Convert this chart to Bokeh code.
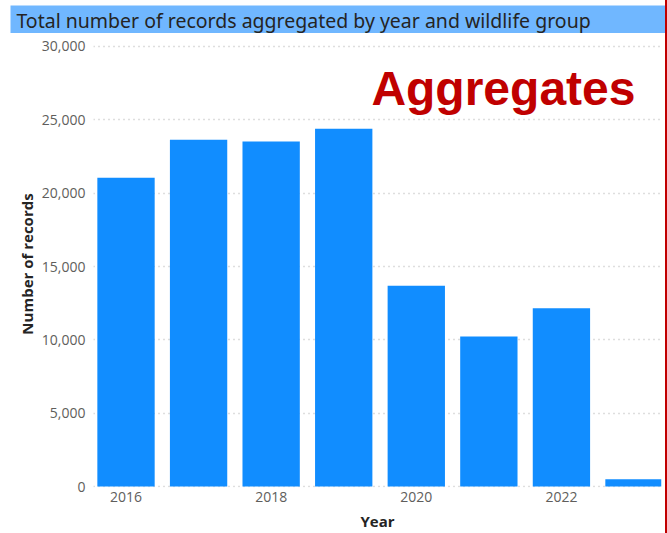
from bokeh.plotting import figure
from bokeh.models import Range1d, FixedTicker, NumeralTickFormatter, Label, ColumnDataSource
from bokeh.embed import file_html
from bokeh.resources import INLINE

years = [2016, 2017, 2018, 2019, 2020, 2021, 2022, 2023]
records = [21050, 23650, 23520, 24400, 13680, 10230, 12150, 500]
x_ticks = [2016, 2018, 2020, 2022]
y_ticks = [0, 5000, 10000, 15000, 20000, 25000, 30000]

title_text = "Total number of records aggregated by year and wildlife group"
badge_text = "Aggregates"

edge = {"border-right": "2px solid #C00000", "box-sizing": "border-box"}

# title bar (separate root so its frame is not aligned to the chart's)
t = figure(width=667, height=33, output_backend="svg", toolbar_location=None,
           x_range=Range1d(0, 1), y_range=Range1d(0, 1),
           x_axis_location=None, y_axis_location=None,
           min_border_left=10, min_border_right=2, min_border_top=5, min_border_bottom=0,
           styles=edge)
t.grid.visible = False
t.outline_line_color = None
t.background_fill_color = "#70B7FF"
t.border_fill_color = "white"
t.add_layout(Label(x=0.009, y=0.45, text=title_text, text_baseline="middle",
                   text_font="Noto Sans", text_font_size="19.5px", text_color="#252423"))

src = ColumnDataSource(dict(year=years, records=records))

p = figure(width=667, height=500, output_backend="svg", toolbar_location=None,
           x_range=Range1d(2015.552, 2023.379), y_range=Range1d(-68, 30409),
           min_border_left=93, min_border_right=6, min_border_top=7, min_border_bottom=46,
           styles=edge)
p.outline_line_color = None
p.vbar(x="year", top="records", width=0.79, source=src, fill_color="#118DFF", line_color=None)

p.xgrid.visible = False
p.ygrid.grid_line_color = "#BDBDBD"
p.ygrid.grid_line_dash = "1 4"
p.ygrid.grid_line_width = 1.3

p.xaxis.ticker = FixedTicker(ticks=x_ticks)
p.yaxis.ticker = FixedTicker(ticks=y_ticks)
p.yaxis.formatter = NumeralTickFormatter(format="0,0")
for ax in (p.xaxis[0], p.yaxis[0]):
    ax.axis_line_color = None
    ax.major_tick_line_color = None
    ax.minor_tick_line_color = None
    ax.major_tick_out = 0
    ax.major_tick_in = 0
    ax.major_label_text_font = "Open Sans"
    ax.major_label_text_font_size = "14px"
    ax.major_label_text_color = "#605E5C"
    ax.axis_label_text_font = "Open Sans"
    ax.axis_label_text_font_size = "15px"
    ax.axis_label_text_font_style = "bold"
    ax.axis_label_text_color = "#252423"
p.xaxis.axis_label = "Year"
p.yaxis.axis_label = "Number of records"
p.xaxis.major_label_standoff = 4
p.xaxis.axis_label_standoff = 6
p.yaxis.major_label_standoff = 8
p.yaxis.axis_label_standoff = 2

p.add_layout(Label(x=2023.02, y=27130, text=badge_text, text_align="right",
                   text_baseline="alphabetic", text_font="Liberation Sans",
                   text_font_style="bold", text_font_size="48px", text_color="#C00000"))

open("out.html", "w").write(file_html([t, p], INLINE))
